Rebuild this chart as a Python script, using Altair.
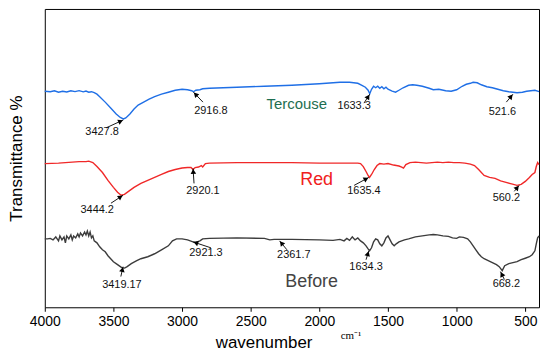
import math
import altair as alt
import pandas as pd

# ---- data (wavenumber, screen-y reading) ----
blue_w = [4000, 3960, 3930, 3900, 3870, 3840, 3810, 3780, 3750, 3720, 3700, 3680, 3660, 3640, 3620,
          3600, 3560, 3520, 3480, 3450, 3428, 3410, 3380, 3350, 3320, 3280, 3240, 3200, 3150, 3100,
          3050, 3000, 2960, 2930, 2917, 2900, 2870, 2850, 2800, 2600, 2400, 2200, 2000, 1850, 1780,
          1720, 1690, 1665, 1645, 1633, 1620, 1605, 1590, 1575, 1560, 1545, 1530, 1515, 1500, 1470,
          1445, 1420, 1390, 1350, 1320, 1290, 1250, 1200, 1170, 1130, 1080, 1040, 1000, 960, 930,
          900, 880, 850, 820, 780, 740, 700, 660, 620, 590, 560, 521, 490, 460, 430, 410, 400]
blue_py = [90, 90.5, 89.5, 91, 90, 90.8, 89.6, 90.4, 89.4, 90.6, 89.8, 91, 90.5, 91.5, 93,
           95.5, 101, 107, 113, 116.5, 118, 117, 113, 108, 104, 101, 98, 95.5, 93, 91,
           89, 88, 88.5, 89.5, 90.5, 89, 88.5, 87.5, 87, 86, 85, 84, 82.5, 81, 81,
           82, 84, 86, 89, 92.5, 88, 85, 86.5, 85, 87, 85.5, 87.5, 86, 88, 90,
           91, 89, 86.5, 84, 83.5, 84, 85, 87, 88.5, 88, 89.5, 90, 88.5, 85, 83,
           82, 81, 81.5, 83.5, 85.5, 86.5, 88, 89.5, 90.5, 91, 91.5, 91, 90, 89.5, 89, 90, 90.5]

red_w = [4000, 3900, 3800, 3750, 3700, 3680, 3650, 3620, 3580, 3540, 3500, 3470, 3444, 3420, 3390,
         3350, 3300, 3250, 3200, 3150, 3100, 3050, 3000, 2960, 2935, 2920, 2905, 2880, 2860, 2850,
         2830, 2800, 2600, 2400, 2200, 2000, 1800, 1720, 1700, 1680, 1660, 1645, 1635, 1620, 1600,
         1580, 1560, 1530, 1500, 1460, 1420, 1400, 1387, 1370, 1340, 1300, 1260, 1220, 1180, 1140,
         1100, 1060, 1020, 980, 940, 900, 870, 840, 800, 760, 720, 680, 640, 600, 560,
         530, 500, 470, 450, 430, 420, 410, 400]
red_py = [163, 162.5, 161.5, 161, 161, 160.5, 162, 166, 172, 180, 187, 192, 195, 194, 191,
          187, 183, 180, 177, 174, 171, 169, 167.5, 167, 167, 169, 167, 166.5, 165, 166.5,
          163, 162.5, 162, 162, 162, 162.5, 162.5, 162.5, 163, 166, 171, 175, 177, 174, 169,
          165, 163, 163.5, 163, 164.5, 165.5, 166.5, 167.5, 164, 162, 161.5, 162, 162.5, 162, 161.5,
          162, 161.5, 162, 162, 162.5, 163.5, 165, 169, 175, 177, 178, 180.5, 182, 183.5, 185,
          184, 181, 177, 174, 172, 166, 162, 164]

gray_w = [4000, 3980, 3960, 3940, 3920, 3900, 3890, 3875, 3860, 3850, 3840, 3825, 3810, 3800, 3790,
          3775, 3760, 3750, 3740, 3725, 3710, 3700, 3690, 3680, 3670, 3660, 3650, 3640, 3620, 3600,
          3580, 3560, 3540, 3520, 3500, 3470, 3440, 3419, 3400, 3370, 3330, 3300, 3250, 3200, 3150,
          3100, 3070, 3040, 3000, 2960, 2921, 2900, 2870, 2850, 2800, 2600, 2400, 2361, 2330, 2200,
          2000, 1900, 1850, 1820, 1800, 1780, 1760, 1740, 1720, 1700, 1680, 1660, 1645, 1634, 1620,
          1605, 1590, 1575, 1560, 1545, 1530, 1515, 1500, 1485, 1470, 1455, 1440, 1420, 1400, 1380,
          1350, 1300, 1250, 1200, 1170, 1140, 1100, 1060, 1030, 1000, 980, 950, 920, 900, 880,
          860, 840, 820, 800, 770, 740, 710, 690, 668, 650, 620, 590, 560, 530, 500,
          470, 450, 430, 420, 410, 400]
gray_py = [239, 239, 238.5, 240, 237, 241, 236, 240, 237, 243, 236, 239, 235, 240, 236,
           238, 234, 237, 233, 236, 232, 235, 231, 236, 232, 238, 236, 241, 243, 247,
           250, 252, 256, 259, 262, 265, 268, 268.5, 267, 264, 261, 259, 257, 254, 250,
           246, 241, 239, 239, 240, 242, 242.5, 241, 239, 238.5, 238, 238.5, 240, 239.5, 239.5,
           240, 240.5, 239.5, 241, 238.5, 240.5, 237, 240, 238, 241, 243, 246, 249, 251, 248,
           242, 239, 240, 244, 246, 243, 238, 236, 240, 244, 246, 244, 242, 241, 240,
           239, 237, 236, 235, 234.5, 235, 236, 236.5, 238, 238.5, 237, 237.5, 239, 242, 246,
           250, 254, 257, 259, 261, 263, 265, 267, 271, 266, 264, 263, 262, 260, 258.5,
           257, 255, 251, 244, 238, 236]

# annotations: label, label position (w, y), arrow tail (w, y), arrow head (w, y)
ann_label = ["3427.8", "2916.8", "1633.3", "521.6",
             "3444.2", "2920.1", "1635.4", "560.2",
             "3419.17", "2921.3", "2361.7", "1634.3", "668.2"]
ann_lw = [3583, 2790, 1747, 667, 3618, 2848, 1675, 638, 3438, 2826, 2186, 1660, 638]
ann_ly = [131, 110, 105, 111, 210, 191, 191, 198, 286, 253, 255, 267, 285]
tail_w = [3554, 2848, 1675, 638, 3518, 2913, 1747, 580, 3446, 2790, 2236, 1660, 652]
tail_y = [127, 101, 102, 101, 203, 183, 185, 191, 277, 248, 250, 260, 280]
head_w = [3428, 2917, 1633, 590, 3430, 2920, 1640, 545, 3430, 2921, 2290, 1640, 681]
head_y = [119, 91, 93, 93, 195, 168, 177, 185, 267, 242, 241, 251, 272]

series_label = ["Tercouse", "Red", "Before"]
series_lw = [2164, 2020, 2056]
series_ly = [103, 180, 283]
series_color = ["#1e6e50", "#f02020", "#444444"]
series_size = [15, 18, 18]

BASE = 312.0
PXW = 0.1389


def T(py):
    return BASE - py


def frame(w, py, name):
    return pd.DataFrame({"w": w, "t": [T(v) for v in py], "s": name})


blue = frame(blue_w, blue_py, "blue")
red = frame(red_w, red_py, "red")
gray = frame(gray_w, gray_py, "gray")

xs = alt.Scale(domain=[4000, 400], nice=False, zero=False)
ys = alt.Scale(domain=[4, 305], nice=False, zero=False)

xaxis = alt.Axis(values=list(range(4000, 499, -250)), format="d",
                 labelExpr="datum.value % 500 == 0 ? datum.label : ''",
                 labelFlush=False, labelOverlap=False,
                 title="wavenumber", titleFontSize=17, titleFontWeight="normal",
                 titleFont="Liberation Sans", titleColor="black", titlePadding=6,
                 titleX=220, titleAlign="center",
                 labelFont="Liberation Sans", labelFontSize=14, labelColor="black",
                 labelPadding=3, tickSize=4, tickColor="black", domain=False, grid=False)
yaxis = alt.Axis(labels=False, ticks=False, domain=False, grid=False,
                 title="Transmittance %", titleFontSize=17, titleFontWeight="normal",
                 titleFont="Liberation Sans", titleColor="black", titlePadding=19)


def line(df, color):
    return alt.Chart(df).mark_line(color=color, strokeWidth=1.4).encode(
        x=alt.X("w:Q", scale=xs, axis=xaxis),
        y=alt.Y("t:Q", scale=ys, axis=yaxis),
        order="ord:Q",
    ).transform_window(ord="row_number()")


lines = [line(blue, "#1f6fe6"), line(red, "#f02828"), line(gray, "#3c3c3c")]

# arrow data
rows = []
for i in range(len(ann_label)):
    dx = (tail_w[i] - head_w[i]) * PXW
    dy = head_y[i] - tail_y[i]
    L = math.hypot(dx, dy) or 1.0
    ang = math.degrees(math.atan2(dx, -dy)) % 360
    cx_px = -dx / L * 3
    cy_px = -dy / L * 3
    rows.append({
        "label": ann_label[i], "lw": ann_lw[i], "lt": T(ann_ly[i]),
        "tw": tail_w[i], "tt": T(tail_y[i]), "hw": head_w[i], "ht": T(head_y[i]),
        "aw": head_w[i] - cx_px / PXW, "at": T(head_y[i] + cy_px), "ang": ang,
    })
ann = pd.DataFrame(rows)

rules = alt.Chart(ann).mark_rule(color="black", strokeWidth=0.9).encode(
    x=alt.X("tw:Q", scale=xs), y=alt.Y("tt:Q", scale=ys),
    x2="hw:Q", y2="ht:Q")
heads = alt.Chart(ann).mark_point(shape="triangle-up", filled=True, color="black",
                                  size=32, opacity=1).encode(
    x=alt.X("aw:Q", scale=xs), y=alt.Y("at:Q", scale=ys),
    angle=alt.Angle("ang:Q", scale=None))
texts = alt.Chart(ann).mark_text(font="Liberation Sans", fontSize=11, color="#111111",
                                 baseline="middle").encode(
    x=alt.X("lw:Q", scale=xs), y=alt.Y("lt:Q", scale=ys), text="label:N")

sdf = pd.DataFrame({"label": series_label, "lw": series_lw,
                    "lt": [T(v) for v in series_ly], "c": series_color,
                    "fs": series_size})
series_texts = alt.Chart(sdf).mark_text(font="Liberation Sans", baseline="middle").encode(
    x=alt.X("lw:Q", scale=xs), y=alt.Y("lt:Q", scale=ys), text="label:N",
    color=alt.Color("c:N", scale=None), size=alt.Size("fs:Q", scale=None))

unit = alt.Chart(pd.DataFrame({"u": ["cm⁻¹"]})).mark_text(
    font="Liberation Serif", fontSize=11, color="black", baseline="middle").encode(
    text="u:N", x=alt.value(308), y=alt.value(329))

chart = alt.layer(*lines, rules, heads, texts, series_texts, unit).properties(
    width=497, height=300, background="white",
    padding={"left": 0, "top": 0, "right": 0, "bottom": 0},
).configure_view(stroke="black", strokeWidth=1)

chart.save("out.html", embed_options={"renderer": "svg", "actions": False})
